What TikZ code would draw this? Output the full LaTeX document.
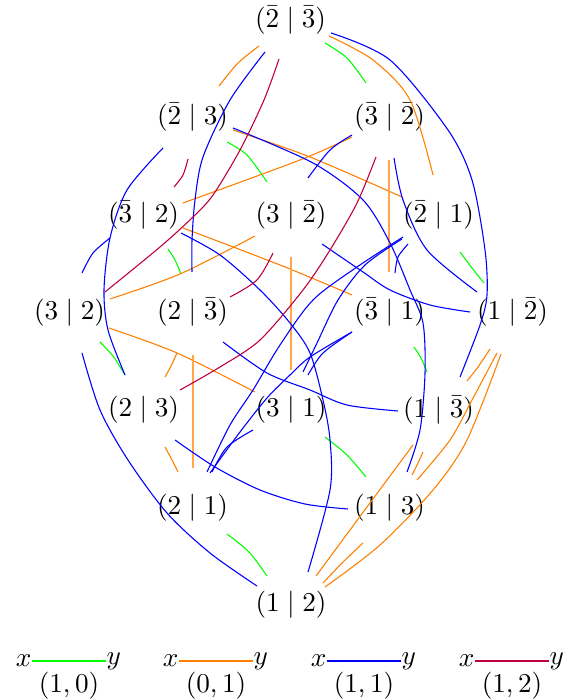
\documentclass[tikz,border=0pt]{standalone}
\begin{document}
\begin{tikzpicture}[x=0.368pt,y=-0.368pt,
  lbl/.style={inner sep=0pt},
  eg/.style={draw=green},
  eo/.style={draw=orange},
  ev/.style={draw=orange!70},
  eb/.style={draw=blue},
  ec/.style={draw=purple}]
\useasboundingbox (0,0) rectangle (570,700);
% nodes
\node[lbl] (a) at (290.5,20) {$(\bar2\mid\bar3)$};
\node[lbl] (b) at (192.5,117.5) {$(\bar2\mid 3)$};
\node[lbl] (c) at (389.5,117.5) {$(\bar3\mid\bar2)$};
\node[lbl] (d) at (143.5,215) {$(\bar3\mid 2)$};
\node[lbl] (e) at (291,215) {$(3\mid\bar2)$};
\node[lbl] (f) at (438.5,215) {$(\bar2\mid 1)$};
\node[lbl] (g) at (69.5,312.5) {$(3\mid 2)$};
\node[lbl] (h) at (192.5,312.5) {$(2\mid\bar3)$};
\node[lbl] (i) at (389.5,312.5) {$(\bar3\mid 1)$};
\node[lbl] (j) at (512.5,312.5) {$(1\mid\bar2)$};
\node[lbl] (k) at (143.5,410) {$(2\mid 3)$};
\node[lbl] (l) at (291,410) {$(3\mid 1)$};
\node[lbl] (m) at (438.5,410) {$(1\mid\bar3)$};
\node[lbl] (n) at (192.5,507.5) {$(2\mid 1)$};
\node[lbl] (o) at (389.5,507.5) {$(1\mid 3)$};
\node[lbl] (p) at (291,605) {$(1\mid 2)$};
% green fragments
\draw[eg] plot[smooth] coordinates {(325,43) (347,58) (366,83)};
\draw[eg] plot[smooth] coordinates {(227,142) (247,155) (267,182)};
\draw[eg] plot[smooth] coordinates {(168,249) (175,260) (181,274)};
\draw[eg] plot[smooth] coordinates {(460,252) (472,268) (484,283)};
\draw[eg] plot[smooth] coordinates {(100,342) (113,356) (125,375)};
\draw[eg] plot[smooth] coordinates {(414,347) (421,358) (427,372)};
\draw[eg] plot[smooth] coordinates {(325,437) (347,455) (366,477)};
\draw[eg] plot[smooth] coordinates {(227,534) (249,552) (267,576)};
% orange fragments
\draw[eo] plot[smooth] coordinates {(259,46) (238,63) (219,86)};
\draw[eo] plot[smooth] coordinates {(329,36) (373,60) (410,100) (433,175)};
\draw[eo] plot[smooth] coordinates {(233,130) (310,157) (402,197)};
\draw[eo] plot[smooth] coordinates {(183,203) (300,160) (352,137)};
\draw[eo] plot[smooth] coordinates {(183,228) (280,265) (352,295)};
\draw[eo] plot[smooth] coordinates {(110,299) (180,274) (255,236)};
\draw[eo] plot[smooth] coordinates {(109,328) (177,353) (255,392)};
\draw[eo] plot[smooth] coordinates {(177,353) (171,366) (165,377)};
\draw[ev] (193,355) -- (193,468);
\draw[ev] (291,257) -- (291,370);
\draw[ev] (389,160) -- (389,272);
\draw[eo] plot[smooth] coordinates {(165,447) (172,460) (178,472)};
\draw[eo] plot[smooth] coordinates {(490,349) (478,367) (467,381)};
\draw[eo] plot[smooth] coordinates {(497,353) (472,400) (450,440) (417,480)};
\draw[eo] plot[smooth] coordinates {(501,354) (467,440) (433,490) (380,545) (325,587)};
\draw[eo] plot[smooth] coordinates {(413,445) (367,507) (316,576)};
\draw[eo] plot[smooth] coordinates {(423,452) (418,463) (412,475)};
\draw[eo] plot[smooth] coordinates {(363,543) (343,562) (323,583)};
% blue fragments
\draw[eb] plot[smooth] coordinates {(331,33) (390,60) (448,130) (472,180) (485,250) (487,295) (480,325) (460,377)};
\draw[eb] plot[smooth] coordinates {(265,52) (230,100) (203,157) (195,200) (192,240) (192,272)};
\draw[eb] plot[smooth] coordinates {(233,128) (313,163) (363,200) (390,243) (410,290) (423,323) (425,373) (420,430) (407,472)};
\draw[eb] plot[smooth] coordinates {(163,148) (127,190) (110,238) (104,290) (108,330) (125,375)};
\draw[eb] plot[smooth] coordinates {(82,273) (93,253) (110,238)};
\draw[eb] plot[smooth] coordinates {(352,135) (330,150) (308,178)};
\draw[eb] plot[smooth] coordinates {(394,158) (403,200) (427,250) (477,292)};
\draw[eb] plot[smooth] coordinates {(181,233) (220,255) (260,290) (290,323) (310,353) (323,400) (330,440) (330,490) (308,572)};
\draw[eb] plot[smooth] coordinates {(322,244) (363,272) (390,290) (430,305) (470,312)};
\draw[eb] plot[smooth] coordinates {(207,472) (230,425) (253,390) (280,345) (313,300) (357,267) (403,237)};
\draw[eb] plot[smooth] coordinates {(303,372) (317,343) (338,300) (365,265) (402,239)};
\draw[eb] plot[smooth] coordinates {(210,473) (240,432) (267,398) (290,375) (310,357) (352,332)};
\draw[eb] plot[smooth] coordinates {(308,375) (323,353) (352,332)};
\draw[eb] plot[smooth] coordinates {(212,472) (227,447) (253,430)};
\draw[eb] plot[smooth] coordinates {(223,342) (267,373) (310,390) (347,405) (398,411)};
\draw[eb] plot[smooth] coordinates {(175,440) (215,467) (260,490) (305,504) (348,509)};
\draw[eb] plot[smooth] coordinates {(82,353) (100,410) (128,460) (167,513) (210,553) (257,586)};
\draw[eb] plot[smooth] coordinates {(408,244) (398,257) (395,273)};
% crimson fragments
\draw[ec] plot[smooth] coordinates {(279,59) (264,100) (240,150) (213,195) (193,217) (160,247) (105,292)};
\draw[ec] plot[smooth] coordinates {(188,159) (183,175) (174,187)};
\draw[ec] plot[smooth] coordinates {(273,253) (257,280) (230,297)};
\draw[ec] plot[smooth] coordinates {(376,157) (357,203) (330,250) (303,290) (260,340) (220,367) (180,390)};
% legend
\coordinate (g1) at (32,661); \coordinate (g2) at (106,661);
\coordinate (o1) at (179,661); \coordinate (o2) at (253,661);
\coordinate (b1) at (327,661); \coordinate (b2) at (401,661);
\coordinate (c1) at (475,661); \coordinate (c2) at (549,661);
\draw[eg] (g1) -- node[lbl,below=4pt] (gl) {$(1,0)$} (g2);
\draw[eo] (o1) -- node[lbl,below=4pt] (ol) {$(0,1)$} (o2);
\draw[eb] (b1) -- node[lbl,below=4pt] (bl) {$(1,1)$} (b2);
\draw[ec] (c1) -- node[lbl,below=4pt] (cl) {$(1,2)$} (c2);
\node[lbl,anchor=east] (gx) at (g1) {$x$}; \node[lbl,anchor=west] (gy) at (g2) {$y$};
\node[lbl,anchor=east] (ox) at (o1) {$x$}; \node[lbl,anchor=west] (oy) at (o2) {$y$};
\node[lbl,anchor=east] (bx) at (b1) {$x$}; \node[lbl,anchor=west] (by) at (b2) {$y$};
\node[lbl,anchor=east] (cx) at (c1) {$x$}; \node[lbl,anchor=west] (cy) at (c2) {$y$};
\end{tikzpicture}
\end{document}
